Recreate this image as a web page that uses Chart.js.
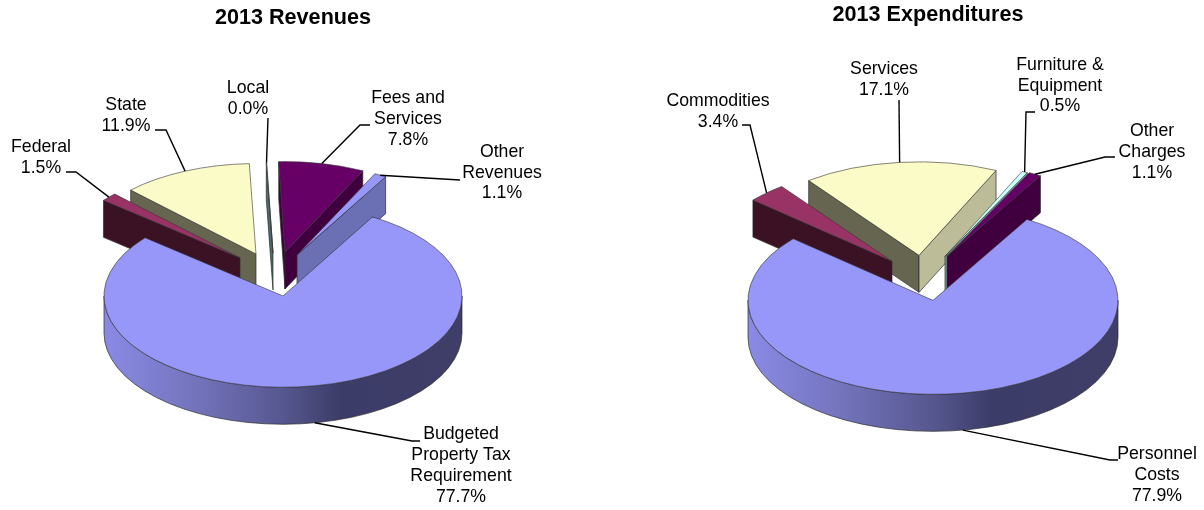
<!DOCTYPE html>
<html><head><meta charset="utf-8">
<style>html,body{margin:0;padding:0;background:#fff;overflow:hidden}
#w{position:relative;width:1204px;height:510px}
canvas{position:absolute;top:0}</style>
<script src="https://cdn.jsdelivr.net/npm/chart.js@4"></script></head>
<body><div id="w"><canvas id="a"></canvas><canvas id="b"></canvas></div>
<script>
const revenueCategories=[['Budgeted','Property Tax','Requirement'],['Federal'],['State'],['Local'],['Fees and','Services'],['Other','Revenues']];
const revenueValues=[77.7,1.5,11.9,0.04,7.8,1.1];
const expenditureCategories=[['Personnel','Costs'],['Commodities'],['Services'],['Furniture &','Equipment'],['Other','Charges']];
const expenditureValues=[77.9,3.4,17.1,0.5,1.1];
const revenueColors=['#9797FA','#993366','#FBFBC8','#CCFFFF','#660066','#9797FA'];
const expenditureColors=['#9797FA','#993366','#FBFBC8','#CCFFFF','#660066'];

const font='"Liberation Sans", Arial, sans-serif';
const pie3d={
 id:'pie3d',
 beforeDatasetsDraw(chart,_,o){
  const ctx=chart.ctx,els=chart.getDatasetMeta(0).data;
  const k=o.squash,d=o.depth;
  const place=i=>{const e=els[i],s=i===0?1:o.farScale,sh=o.shift[i];
    const cx=e.x+o.centerShift+sh[0],cy=e.y+sh[1],R=e.outerRadius*s;
    return {e,s,cx,cy,R,P:(a,r,z)=>[cx+r*Math.cos(a),cy+r*Math.sin(a)*k+z]};};
  const poly=(pts,fill)=>{ctx.beginPath();pts.forEach((p,n)=>n?ctx.lineTo(p[0],p[1]):ctx.moveTo(p[0],p[1]));ctx.closePath();
    ctx.fillStyle=fill;ctx.fill();ctx.lineWidth=.7;ctx.strokeStyle=o.edge;ctx.stroke();};
  for(const i of o.order){
   const g=place(i),{e,P,cx,cy,R}=g,a0=e.startAngle,a1=e.endAngle;
   if(-Math.cos(a0)>-0.05)poly([P(a0,0,0),P(a0,R,0),P(a0,R,d),P(a0,0,d)],o.startFace[i]);
   if(Math.cos(a1)>0)poly([P(a1,0,0),P(a1,R,0),P(a1,R,d),P(a1,0,d)],o.endFace[i]);
   const from=Math.max(a0,0),to=Math.min(a1,Math.PI);
   if(to>from){
    const gr=ctx.createLinearGradient(cx-R,0,cx+R,0);
    o.wallStops.forEach(s=>gr.addColorStop(s[0],s[1]));
    ctx.beginPath();ctx.ellipse(cx,cy,R,R*k,0,from,to);ctx.ellipse(cx,cy+d,R,R*k,0,to,from,true);ctx.closePath();
    ctx.fillStyle=gr;ctx.fill();ctx.lineWidth=.7;ctx.strokeStyle=o.edge;ctx.stroke();
   }
   ctx.save();ctx.translate(cx,cy);ctx.scale(g.s,g.s*k);ctx.translate(-e.x,-e.y);e.draw(ctx);ctx.restore();
  }
  // labels and leader lines
  const left=o.left,values=chart.data.datasets[0].data,names=chart.data.labels;
  ctx.font='17.7px '+font;ctx.textAlign='center';ctx.textBaseline='middle';
  names.forEach((nm,i)=>{
   const g=place(i),e=g.e,mid=(e.startAngle+e.endAngle)/2;
   const a=g.P(mid,g.R,i===0?d:0),L=o.labels[i];
   ctx.beginPath();ctx.moveTo(a[0],a[1]);L.leader.forEach(p=>ctx.lineTo(p[0]-left,p[1]));
   ctx.strokeStyle='#000';ctx.lineWidth=1.4;ctx.stroke();
   ctx.fillStyle='#000';
   [...nm,values[i].toFixed(1)+'%'].forEach((t,n)=>ctx.fillText(t,L.x-left,L.y+n*L.step));
  });
  return false;
 }
};
const wallStops=[[0,'#8a8ae6'],[.25,'#7474bd'],[.5,'#56578f'],[.66,'#3c3c68'],[1,'#3e3e68']];
function make(id,left,width,title,titleTop,titleGap,R,rot,labels,values,colors,plug){
 const c=document.getElementById(id);c.style.left=left+'px';c.width=width;c.height=510;c.style.width=width+'px';c.style.height='510px';
 plug.left=left;plug.wallStops=wallStops;plug.edge='#2b2b2b';
 new Chart(c,{type:'pie',plugins:[pie3d],
  data:{labels,datasets:[{data:values,backgroundColor:colors,borderColor:'#333',borderWidth:.8,radius:R}]},
  options:{responsive:false,animation:false,rotation:rot,layout:{padding:0},
   plugins:{legend:{display:false},tooltip:{enabled:false},
    title:{display:true,text:title,color:'#000',font:{family:font,size:21.6,weight:'bold',lineHeight:1.2},padding:{top:titleTop,bottom:titleGap}},
    pie3d:plug}}});
}
make('a',0,586,'2013 Revenues',5,51,179,30,revenueCategories,revenueValues,revenueColors,{
 centerShift:-10,squash:.51,depth:37,farScale:.99,order:[2,1,3,4,5,0],
 shift:[[0,0],[-43,-38],[-27,-42],[-10,-43],[2,-44],[14,-41]],
 startFace:['#3d3d66','#3b1224','#666650','#4f6b6b','#400040','#1f1f33'],
 endFace:['#3d3d66','#3b1224','#bcbc99','#4f6b6b','#400040','#6b6fb3'],
 labels:[
  {x:461,y:434.5,step:20.8,leader:[[412,441],[420,441]]},
  {x:41,y:147,step:20.8,leader:[[76,172],[66,172]]},
  {x:126,y:105,step:20.8,leader:[[166,130],[155,130]]},
  {x:248,y:88,step:20.8,leader:[[268,118]]},
  {x:408,y:98.5,step:20.8,leader:[[360,125],[370,125]]},
  {x:502,y:152,step:20.8,leader:[[460,180]]}]
});
make('b',652,552,'2013 Expenditures',2,62.8,185,30.5,expenditureCategories,expenditureValues,expenditureColors,{
 centerShift:5,squash:.508,depth:37,farScale:.995,order:[2,1,3,4,0],
 shift:[[0,0],[-41,-39],[-14,-45],[12,-44],[14,-44]],
 startFace:['#3d3d66','#3b1224','#666650','#7fa0a0','#400040'],
 endFace:['#3d3d66','#3b1224','#bcbc99','#7fa0a0','#400040'],
 labels:[
  {x:1157,y:454.5,step:20.8,leader:[[1110,460],[1118,460]]},
  {x:718,y:101,step:20.8,leader:[[750,125],[742,125]]},
  {x:884,y:69,step:20.8,leader:[[899,100]]},
  {x:1060,y:65,step:20.8,leader:[[1026,112],[1035,112]]},
  {x:1152,y:131.5,step:20.8,leader:[[1105,157],[1115,157]]}]
});
</script></body></html>
